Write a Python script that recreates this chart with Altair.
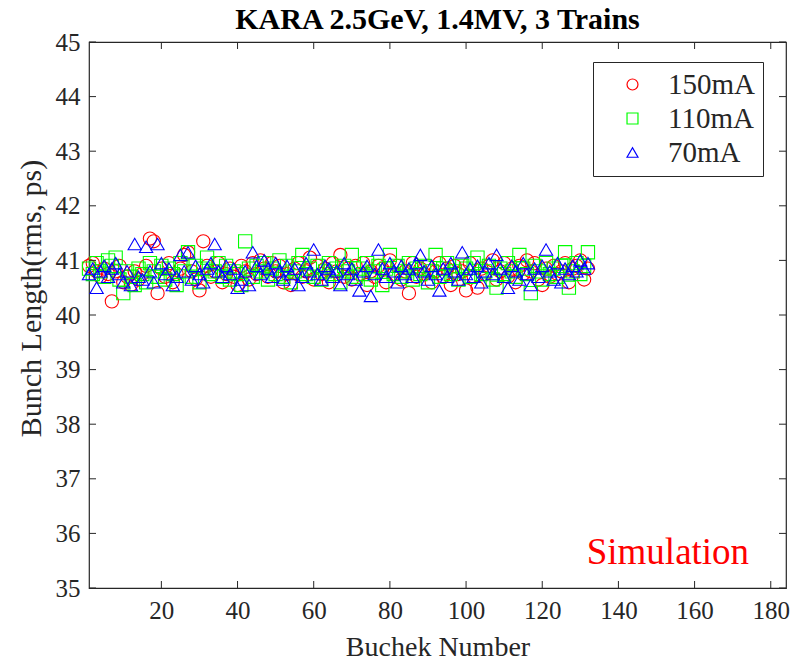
import altair as alt
import pandas as pd

# ---------------- data ----------------
bunches = list(range(1, 133))

red_150 = [
    40.90, 40.95, 40.80, 40.70, 40.85, 40.75, 40.25, 40.80, 40.90, 40.60,
    40.70, 40.55, 40.80, 40.65, 40.75, 40.90, 41.40, 41.35, 40.40, 40.85,
    40.70, 40.95, 40.60, 40.75, 40.85, 41.10, 41.15, 40.80, 40.65, 40.45,
    41.35, 40.90, 40.70, 40.80, 40.95, 40.60, 40.75, 40.85, 40.70, 40.55,
    40.90, 40.80, 40.65, 40.95, 40.75, 41.00, 40.85, 40.70, 40.95, 40.80,
    40.90, 40.60, 40.75, 40.55, 40.85, 40.95, 40.70, 40.80, 41.05, 40.65,
    40.90, 40.75, 40.85, 40.60, 40.95, 40.80, 41.10, 40.70, 40.85, 40.65,
    40.90, 40.75, 40.95, 40.55, 40.80, 40.70, 40.90, 40.85, 40.60, 41.00,
    40.75, 40.90, 40.65, 40.80, 40.40, 40.95, 40.70, 40.85, 40.75, 40.90,
    40.60, 40.80, 40.95, 40.70, 40.85, 40.55, 40.90, 40.75, 40.80, 40.45,
    40.95, 40.70, 40.50, 40.85, 40.75, 40.90, 41.00, 40.65, 40.80, 40.95,
    40.70, 40.85, 40.60, 40.90, 40.75, 41.00, 40.80, 40.95, 40.65, 40.55,
    40.85, 40.70, 40.90, 40.75, 40.80, 40.95, 40.60, 40.85, 40.90, 41.00,
    40.65, 40.85,
]

green_110 = [
    40.85, 40.75, 40.95, 40.80, 40.70, 41.00, 40.90, 41.05, 40.65, 40.40,
    40.80, 40.70, 40.55, 40.85, 40.75, 40.60, 40.95, 40.80, 40.70, 40.90,
    40.65, 40.85, 40.75, 40.55, 40.95, 40.80, 41.15, 40.70, 40.90, 40.60,
    40.85, 41.05, 40.75, 40.80, 40.95, 40.70, 40.90, 40.65, 40.80, 40.75,
    40.55, 41.35, 40.85, 40.70, 40.90, 40.80, 40.95, 40.65, 40.85, 40.75,
    41.00, 40.70, 40.90, 40.60, 40.80, 40.95, 41.10, 40.75, 40.85, 40.70,
    40.90, 40.65, 40.80, 40.95, 40.75, 40.85, 40.60, 40.90, 40.80, 41.10,
    40.70, 40.85, 40.75, 40.95, 40.65, 40.80, 40.90, 40.55, 40.85, 41.10,
    40.75, 40.90, 40.70, 40.80, 40.95, 40.65, 40.85, 40.75, 40.90, 40.60,
    40.80, 41.10, 40.70, 40.85, 40.95, 40.75, 40.80, 40.65, 40.90, 40.85,
    40.70, 40.95, 41.05, 40.75, 40.80, 40.90, 40.65, 40.50, 40.85, 40.75,
    40.95, 40.80, 40.70, 41.10, 40.85, 40.75, 40.40, 40.90, 40.80, 40.65,
    40.95, 40.75, 40.85, 40.70, 40.90, 41.15, 40.50, 40.80, 40.95, 40.75,
    40.90, 41.15,
]

blue_70 = [
    40.75, 40.85, 40.50, 40.80, 40.90, 40.70, 40.85, 40.95, 40.75, 40.60,
    40.80, 40.55, 41.30, 40.70, 40.65, 41.25, 40.80, 40.60, 41.30, 40.95,
    40.75, 40.85, 40.55, 40.70, 41.10, 40.80, 41.15, 40.65, 40.90, 40.75,
    40.60, 40.85, 40.95, 41.30, 40.80, 40.70, 40.90, 40.75, 40.85, 40.50,
    40.65, 40.80, 40.55, 41.15, 40.90, 40.75, 41.00, 40.85, 40.70, 40.95,
    40.80, 40.65, 40.90, 40.75, 40.85, 40.55, 40.70, 40.95, 40.80, 41.20,
    40.75, 40.65, 40.90, 40.85, 40.70, 40.80, 40.55, 40.95, 40.75, 40.85,
    40.65, 40.45, 40.80, 40.90, 40.35, 40.75, 41.20, 40.85, 40.70, 40.95,
    40.80, 40.60, 40.90, 40.75, 40.85, 40.70, 40.95, 41.10, 40.80, 40.65,
    40.90, 40.75, 40.45, 40.85, 40.70, 40.95, 40.80, 40.65, 41.15, 40.75,
    40.85, 40.70, 40.90, 40.60, 40.80, 40.95, 40.75, 41.10, 40.85, 40.70,
    40.50, 40.90, 40.80, 40.65, 40.95, 40.75, 40.55, 40.85, 40.70, 40.90,
    41.20, 40.80, 40.65, 40.95, 40.60, 40.85, 40.75, 40.90, 40.80, 41.00,
    40.85, 40.95,
]

series_names = ["150mA", "110mA", "70mA"]
series_colors = ["#FF0000", "#00FF00", "#0000FF"]
series_shapes = ["circle", "square", "triangle-up"]

x_ticks = [20, 40, 60, 80, 100, 120, 140, 160, 180]
y_ticks = [35, 36, 37, 38, 39, 40, 41, 42, 43, 44, 45]
x_domain = [1, 184]
y_domain = [35, 45]

note_text = ["Simulation"]
note_x = [153]
note_y = [35.65]

# ---------------- build ----------------
W, H = 697, 546
TICK = 7
FONT = "Liberation Serif"
INK = "#262626"

rows = []
for name, vals in zip(series_names, [red_150, green_110, blue_70]):
    for b, v in zip(bunches, vals):
        rows.append({"series": name, "bunch": b, "value": v})
df = pd.DataFrame(rows)

xs = alt.Scale(domain=x_domain, nice=False, zero=False)
ys = alt.Scale(domain=y_domain, nice=False, zero=False)

x_axis = alt.Axis(values=x_ticks, title="Buchek Number", labelPadding=10, titlePadding=10,
                  titleFontSize=28)
y_axis = alt.Axis(values=y_ticks, title="Bunch Length(rms, ps)", labelPadding=9, titlePadding=9,
                  titleFontSize=30, titleY=256)

leg = alt.Legend(
    title=None,
    orient="none",
    legendX=504,
    legendY=20,
    strokeColor=INK,
    fillColor="white",
    padding=8,
    symbolSize=120,
    symbolStrokeWidth=1.2,
    symbolOffset=17,
    labelOffset=21,
    labelFont=FONT,
    labelFontSize=29,
    labelColor=INK,
    rowPadding=4,
)

points = alt.Chart(df).mark_point(filled=False, size=175, strokeWidth=1.1, opacity=1).encode(
    x=alt.X("bunch:Q", scale=xs, axis=x_axis),
    y=alt.Y("value:Q", scale=ys, axis=y_axis),
    color=alt.Color("series:N", scale=alt.Scale(domain=series_names, range=series_colors), legend=leg),
    shape=alt.Shape("series:N", scale=alt.Scale(domain=series_names, range=series_shapes), legend=leg),
)

xt = pd.DataFrame({"t": x_ticks})
yt = pd.DataFrame({"t": y_ticks})

bottom_ticks = alt.Chart(xt).mark_rule(color=INK, strokeWidth=1).encode(
    x=alt.X("t:Q", scale=xs, axis=x_axis), y=alt.value(H), y2=alt.value(H - TICK))
top_ticks = alt.Chart(xt).mark_rule(color=INK, strokeWidth=1).encode(
    x=alt.X("t:Q", scale=xs, axis=x_axis), y=alt.value(0), y2=alt.value(TICK))
left_ticks = alt.Chart(yt).mark_rule(color=INK, strokeWidth=1).encode(
    y=alt.Y("t:Q", scale=ys, axis=y_axis), x=alt.value(0), x2=alt.value(TICK))
right_ticks = alt.Chart(yt).mark_rule(color=INK, strokeWidth=1).encode(
    y=alt.Y("t:Q", scale=ys, axis=y_axis), x=alt.value(W - TICK), x2=alt.value(W))

note = alt.Chart(pd.DataFrame({"x": note_x, "y": note_y, "t": note_text})).mark_text(
    color="#FF0000", font=FONT, fontSize=37, align="center", baseline="middle"
).encode(
    x=alt.X("x:Q", scale=xs, axis=x_axis),
    y=alt.Y("y:Q", scale=ys, axis=y_axis),
    text="t:N",
)

chart = alt.layer(points, bottom_ticks, top_ticks, left_ticks, right_ticks, note).properties(
    width=W,
    height=H,
    padding={"left": 81, "top": 34, "right": 8, "bottom": 72},
    autosize=alt.AutoSizeParams(type="none"),
    title=alt.TitleParams(
        "KARA 2.5GeV, 1.4MV, 3 Trains",
        font=FONT, fontSize=30, fontWeight="bold", color="black", anchor="middle",
        frame="group", offset=0, dy=5,
    ),
).configure(
    background="white"
).configure_view(
    stroke=INK, strokeWidth=1.2
).configure_axis(
    domain=False, ticks=False, grid=False,
    labelFont=FONT, labelFontSize=25, labelColor=INK,
    titleFont=FONT, titleFontSize=27, titleFontWeight="normal", titleColor=INK,
)

chart.save("out.html", embed_options={"renderer": "svg", "actions": False})
